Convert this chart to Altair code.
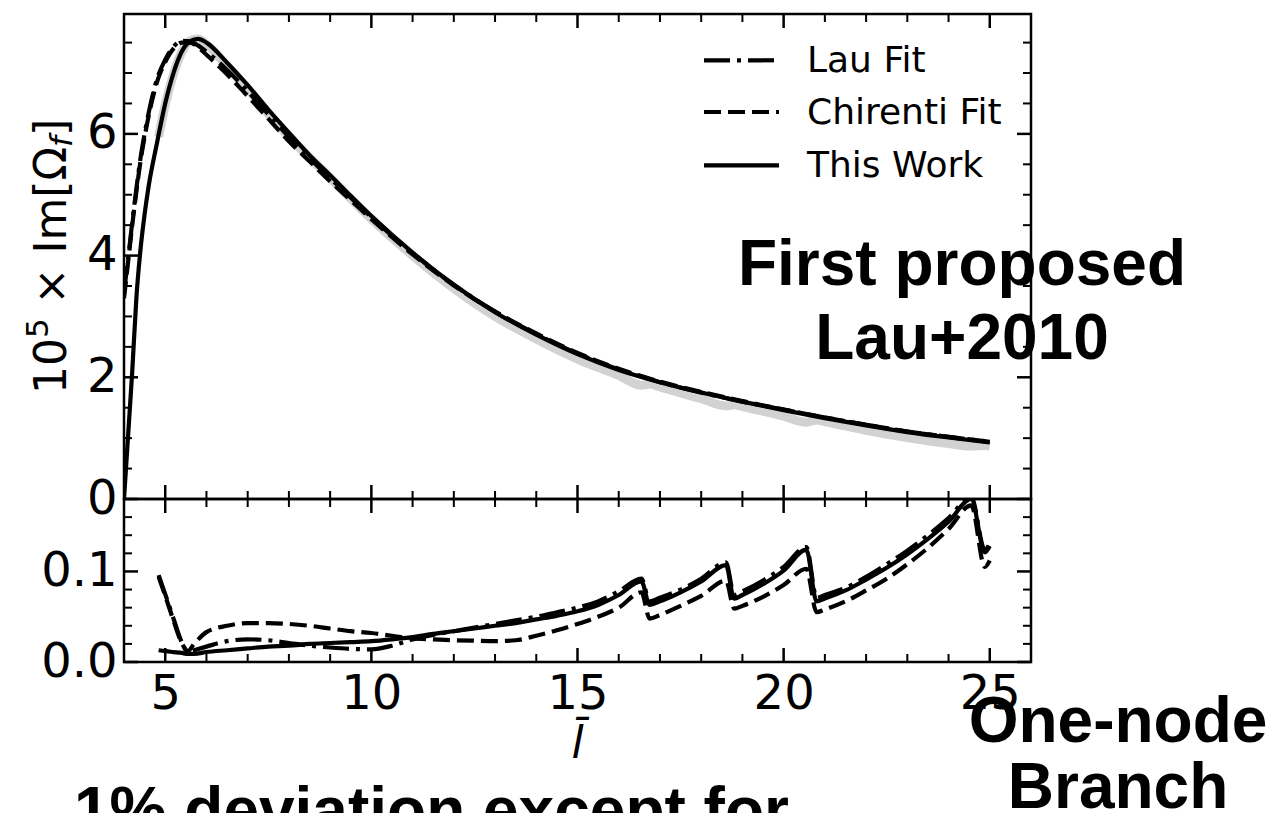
import altair as alt
import pandas as pd

# ---- upper panel: 1e5 x Im[Omega_f] against l-bar ----
lbar = [4.0, 4.1, 4.2, 4.3, 4.4, 4.5, 4.6, 4.8, 5.0, 5.2, 5.4, 5.6, 5.8, 6.0, 6.5,
        7.0, 7.5, 8.0, 8.5, 9.0, 9.5, 10.0, 11.0, 12.0, 13.0, 14.0, 15.0, 16.0,
        17.0, 18.0, 19.0, 20.0, 21.0, 22.0, 23.0, 24.0, 25.0]
this_work = [0.0, 1.05, 2.1, 3.3, 4.1, 4.68, 5.15, 5.85, 6.5, 7.0, 7.35, 7.52, 7.56, 7.5, 7.17,
             6.8, 6.4, 6.02, 5.65, 5.32, 4.98, 4.65, 4.05, 3.52, 3.07, 2.7, 2.38, 2.12,
             1.92, 1.75, 1.6, 1.46, 1.33, 1.21, 1.10, 1.01, 0.93]
lau_fit = [3.4, 3.95, 4.55, 5.1, 5.6, 6.0, 6.35, 6.9, 7.22, 7.43, 7.53, 7.52, 7.45, 7.35, 7.05,
           6.7, 6.32, 5.95, 5.6, 5.27, 4.95, 4.63, 4.04, 3.52, 3.08, 2.71, 2.39, 2.13,
           1.92, 1.75, 1.6, 1.47, 1.34, 1.22, 1.11, 1.02, 0.94]
chirenti_fit = [3.3, 3.9, 4.5, 5.05, 5.55, 5.95, 6.3, 6.85, 7.18, 7.4, 7.5, 7.5, 7.42, 7.3, 6.98,
                6.62, 6.25, 5.88, 5.55, 5.22, 4.91, 4.6, 4.02, 3.51, 3.08, 2.72, 2.4, 2.14,
                1.93, 1.76, 1.61, 1.47, 1.34, 1.22, 1.11, 1.02, 0.94]

# numerical data (grey band)
data_x = [4.84, 5.0, 5.2, 5.4, 5.6, 5.8, 6.0, 6.5, 7.0, 7.5, 8.0, 9.0, 10.0, 11.0, 12.0,
          13.0, 14.0, 15.0, 16.0, 16.55, 16.75, 17.0, 18.0, 18.6, 18.8, 19.0, 20.0,
          20.55, 20.8, 21.0, 22.0, 23.0, 24.0, 24.55, 24.88, 25.0]
data_vals = [5.95, 6.48, 6.98, 7.34, 7.53, 7.56, 7.47, 7.12, 6.74, 6.33, 5.95, 5.28, 4.6, 4.0, 3.46,
             3.0, 2.63, 2.3, 2.03, 1.87, 1.89, 1.84, 1.65, 1.53, 1.55, 1.52, 1.36,
             1.26, 1.30, 1.27, 1.13, 1.01, 0.91, 0.87, 0.88, 0.87]

# ---- lower panel: relative deviation from the data ----
res_x = [4.84, 5.0, 5.2, 5.4, 5.55, 5.7, 6.0, 6.5, 7.0, 7.5, 8.0, 8.5, 9.0, 9.5, 10.0,
         10.5, 11.0, 11.5, 12.0, 12.5, 13.0, 13.5, 14.0, 14.5, 15.0, 15.5, 16.0,
         16.55, 16.75, 17.0, 17.5, 18.0, 18.6, 18.8, 19.0, 19.5, 20.0,
         20.55, 20.8, 21.0, 21.5, 22.0, 22.5, 23.0, 23.5, 24.0, 24.55, 24.88, 25.0]
res_this_work = [0.013, 0.012, 0.011, 0.010, 0.009, 0.009, 0.011, 0.013, 0.015, 0.017,
                 0.018, 0.020, 0.021, 0.022, 0.023, 0.025, 0.0275, 0.031, 0.034, 0.037,
                 0.040, 0.043, 0.047, 0.051, 0.056, 0.063, 0.074,
                 0.089, 0.063, 0.067, 0.077, 0.089, 0.107, 0.070, 0.074, 0.086, 0.101,
                 0.124, 0.067, 0.070, 0.079, 0.091, 0.104, 0.119, 0.136, 0.155, 0.180,
                 0.121, 0.128]
res_lau = [0.096, 0.075, 0.048, 0.022, 0.011, 0.013, 0.017, 0.023, 0.025, 0.024,
           0.021, 0.018, 0.016, 0.0145, 0.014, 0.018, 0.025, 0.030, 0.034, 0.038,
           0.042, 0.046, 0.050, 0.055, 0.060, 0.067, 0.078,
           0.092, 0.067, 0.071, 0.080, 0.092, 0.110, 0.074, 0.078, 0.090, 0.105,
           0.127, 0.071, 0.074, 0.082, 0.094, 0.108, 0.123, 0.140, 0.159, 0.182,
           0.124, 0.131]
res_chirenti = [0.094, 0.073, 0.046, 0.021, 0.012, 0.020, 0.033, 0.040, 0.043, 0.043,
                0.042, 0.040, 0.037, 0.034, 0.032, 0.029, 0.026, 0.025, 0.024, 0.0235,
                0.023, 0.024, 0.029, 0.035, 0.042, 0.050, 0.060,
                0.077, 0.048, 0.052, 0.062, 0.073, 0.090, 0.059, 0.062, 0.072, 0.085,
                0.103, 0.055, 0.058, 0.067, 0.079, 0.092, 0.108, 0.126, 0.147, 0.173,
                0.105, 0.112]

# tick positions
x_major = [5, 10, 15, 20, 25]
x_minor = [6, 7, 8, 9, 11, 12, 13, 14, 16, 17, 18, 19, 21, 22, 23, 24]
top_y_major = [0, 2, 4, 6]
top_y_minor = [0.5, 1.0, 1.5, 2.5, 3.0, 3.5, 4.5, 5.0, 5.5, 6.5, 7.0, 7.5]
bot_y_major = [0.0, 0.1]
bot_y_minor = [0.02, 0.04, 0.06, 0.08, 0.12, 0.14, 0.16]

# legend entries
legend_names = ["Lau Fit", "Chirenti Fit", "This Work"]

W = 907
H_TOP = 485
H_BOT = 163
LW = 4.2
DASHED = [17, 7]
DASHDOT = [26, 7, 4, 7]
MAJOR_LEN, MINOR_LEN = 14, 8
TEXT_FONT = "DejaVu Sans"
BOLD_FONT = "Liberation Sans"

x_scale = alt.Scale(domain=[4, 26], nice=False, zero=False)
y_top_scale = alt.Scale(domain=[0, 7.97], nice=False, zero=False)
y_bot_scale = alt.Scale(domain=[0, 0.18], nice=False, zero=False)

label_style = dict(labelFont=TEXT_FONT, labelFontSize=48, labelColor="black",
                   ticks=False, domain=False, grid=False, title=None,
                   labelFlush=False, labelOverlap=False, labelBound=False)
x_bot_axis = alt.Axis(values=x_major, format="d", labelPadding=8, **label_style)
y_top_axis = alt.Axis(values=top_y_major, format="d", labelPadding=7, **label_style)
y_bot_axis = alt.Axis(values=bot_y_major, format=".1f", labelPadding=7, **label_style)

top_df = pd.DataFrame({"lbar": lbar, "this_work": this_work,
                       "lau": lau_fit, "chirenti": chirenti_fit})
data_df = pd.DataFrame({"lbar": data_x, "data": data_vals})
res_df = pd.DataFrame({"lbar": res_x, "this_work": res_this_work,
                       "lau": res_lau, "chirenti": res_chirenti})


def curve(df, col, ys, xaxis, yaxis, **mark):
    return alt.Chart(df).mark_line(clip=True, interpolate="monotone", **mark).encode(
        x=alt.X("lbar:Q", scale=x_scale, axis=xaxis),
        y=alt.Y(f"{col}:Q", scale=ys, axis=yaxis),
    )


def x_ticks(values, xaxis, h, length, width):
    base = alt.Chart(pd.DataFrame({"v": values})).mark_rule(color="black", strokeWidth=width)
    xe = alt.X("v:Q", scale=x_scale, axis=xaxis)
    return [base.encode(x=xe, y=alt.value(h), y2=alt.value(h - length)),
            base.encode(x=xe, y=alt.value(0), y2=alt.value(length))]


def y_ticks(values, ys, yaxis, length, width):
    base = alt.Chart(pd.DataFrame({"v": values})).mark_rule(color="black", strokeWidth=width)
    ye = alt.Y("v:Q", scale=ys, axis=yaxis)
    return [base.encode(y=ye, x=alt.value(0), x2=alt.value(length)),
            base.encode(y=ye, x=alt.value(W), x2=alt.value(W - length))]


def note(text, x, y, size, font=TEXT_FONT, weight="normal", style="normal",
         align="left", angle=0):
    return alt.Chart(pd.DataFrame({"t": [text]})).mark_text(
        font=font, fontSize=size, fontWeight=weight, fontStyle=style,
        align=align, baseline="alphabetic", angle=angle, color="black",
    ).encode(text="t:N", x=alt.value(x), y=alt.value(y))


def legend_line(y, **mark):
    return alt.Chart(pd.DataFrame({"k": [0]})).mark_rule(
        color="black", strokeWidth=LW, **mark
    ).encode(x=alt.value(580), x2=alt.value(655), y=alt.value(y))


# ---------------- upper panel ----------------
top_layers = [
    curve(data_df, "data", y_top_scale, None, y_top_axis, color="#d2d2d2", strokeWidth=9),
    curve(top_df, "chirenti", y_top_scale, None, y_top_axis, color="black",
          strokeWidth=LW, strokeDash=DASHED),
    curve(top_df, "lau", y_top_scale, None, y_top_axis, color="black",
          strokeWidth=LW, strokeDash=DASHDOT),
    curve(top_df, "this_work", y_top_scale, None, y_top_axis, color="black", strokeWidth=LW),
]
top_layers += x_ticks(x_major, None, H_TOP, MAJOR_LEN, 2.5)
top_layers += x_ticks(x_minor, None, H_TOP, MINOR_LEN, 2)
top_layers += y_ticks(top_y_major, y_top_scale, y_top_axis, MAJOR_LEN, 2.5)
top_layers += y_ticks(top_y_minor, y_top_scale, y_top_axis, MINOR_LEN, 2)

# legend
top_layers += [
    legend_line(46.3, strokeDash=DASHDOT),
    legend_line(98, strokeDash=DASHED),
    legend_line(151.3),
    note(legend_names[0], 683, 58, 36),
    note(legend_names[1], 683, 109.7, 36),
    note(legend_names[2], 683, 163, 36),
]

# y-axis title: 10^5 x Im[Omega_f]
top_layers += [
    note("10", -58, 380, 44, angle=270),
    note("5", -76, 324, 31, angle=270),
    note("× Im[Ω", -58, 290.4, 44, angle=270),
    note("f", -52, 132.9, 31, style="italic", angle=270),
    note("]", -58, 122.1, 44, angle=270),
]

top_layers += [
    note("First proposed", 838, 271, 64, font=BOLD_FONT, weight="bold", align="center"),
    note("Lau+2010", 838, 345, 64, font=BOLD_FONT, weight="bold", align="center"),
]

top = alt.layer(*top_layers).properties(width=W, height=H_TOP)

# ---------------- lower panel ----------------
bot_layers = [
    curve(res_df, "chirenti", y_bot_scale, x_bot_axis, y_bot_axis, color="black",
          strokeWidth=LW, strokeDash=DASHED),
    curve(res_df, "lau", y_bot_scale, x_bot_axis, y_bot_axis, color="black",
          strokeWidth=LW, strokeDash=DASHDOT),
    curve(res_df, "this_work", y_bot_scale, x_bot_axis, y_bot_axis, color="black",
          strokeWidth=LW),
]
bot_layers += x_ticks(x_major, x_bot_axis, H_BOT, MAJOR_LEN, 2.5)
bot_layers += x_ticks(x_minor, x_bot_axis, H_BOT, MINOR_LEN, 2)
bot_layers += y_ticks(bot_y_major, y_bot_scale, y_bot_axis, MAJOR_LEN, 2.5)
bot_layers += y_ticks(bot_y_minor, y_bot_scale, y_bot_axis, MINOR_LEN, 2)

bot_layers += [
    note("l\u0304", W / 2, 259, 44, style="italic", align="center"),
    note("One-node", 994, 243, 64, font=BOLD_FONT, weight="bold", align="center"),
    note("Branch", 994, 309, 64, font=BOLD_FONT, weight="bold", align="center"),
    note("1% deviation except for", -50, 333, 64, font=BOLD_FONT, weight="bold"),
]

bottom = alt.layer(*bot_layers).properties(width=W, height=H_BOT)

chart = alt.vconcat(top, bottom, spacing=0, bounds="flush").properties(
    padding={"left": 21, "top": 11, "right": 5, "bottom": 0},
    background="white",
).configure_view(stroke="black", strokeWidth=2.5)

chart.save("out.html", embed_options={"renderer": "svg", "actions": False})
